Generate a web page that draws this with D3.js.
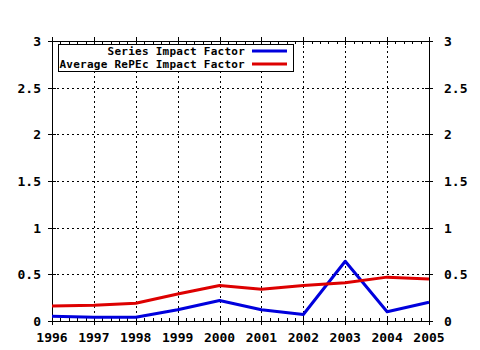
<!DOCTYPE html>
<html><head><meta charset="utf-8">
<script src="https://cdn.jsdelivr.net/npm/d3@7"></script>
<style>body{margin:0;background:#fff}</style>
</head><body>
<svg id="c" width="480" height="350"></svg>
<script>
const years = [1996,1997,1998,1999,2000,2001,2002,2003,2004,2005];
const seriesIF = [0.05,0.04,0.04,0.12,0.22,0.12,0.07,0.64,0.10,0.20];
const avgRePEc = [0.16,0.17,0.19,0.29,0.38,0.34,0.38,0.41,0.47,0.45];
const yTicks = [0,0.5,1,1.5,2,2.5,3];
const yTickLabels = ["0","0.5","1","1.5","2","2.5","3"];
const seriesNames = ["Series Impact Factor","Average RePEc Impact Factor"];
const seriesColors = ["#0000dd","#dd0000"];

const svg = d3.select("#c");
const L=52,R=429,T=41,B=321;
const x = d3.scaleLinear().domain([1996,2005]).range([L,R]);
const y = d3.scaleLinear().domain([0,3]).range([B,T]);
const font = "'DejaVu Sans Mono', monospace";

// grid
const g = svg.append("g");
g.selectAll(".vg").data(years.slice(1,-1)).enter().append("line")
  .attr("x1",d=>Math.round(x(d))+0.5).attr("x2",d=>Math.round(x(d))+0.5).attr("y1",T).attr("y2",B)
  .attr("stroke","#000").attr("stroke-dasharray","2,3");
g.selectAll(".hg").data(yTicks.slice(1,-1)).enter().append("line")
  .attr("y1",d=>Math.round(y(d))+0.5).attr("y2",d=>Math.round(y(d))+0.5).attr("x1",L).attr("x2",R)
  .attr("stroke","#000").attr("stroke-dasharray","2,3");

// minor x ticks
const minor = [];
years.slice(0,-1).forEach(yr=>{for(let i=1;i<5;i++) minor.push(yr+i/5);});
g.selectAll(".mb").data(minor).enter().append("line")
  .attr("x1",d=>Math.round(x(d))+0.5).attr("x2",d=>Math.round(x(d))+0.5).attr("y1",B-3).attr("y2",B)
  .attr("stroke","#000");
g.selectAll(".mt").data(minor).enter().append("line")
  .attr("x1",d=>Math.round(x(d))+0.5).attr("x2",d=>Math.round(x(d))+0.5).attr("y1",T).attr("y2",T+3)
  .attr("stroke","#000");
// major x ticks
g.selectAll(".Mb").data(years).enter().append("line")
  .attr("x1",d=>Math.round(x(d))+0.5).attr("x2",d=>Math.round(x(d))+0.5).attr("y1",B-4).attr("y2",B+4)
  .attr("stroke","#000");
g.selectAll(".Mt").data(years).enter().append("line")
  .attr("x1",d=>Math.round(x(d))+0.5).attr("x2",d=>Math.round(x(d))+0.5).attr("y1",T-4).attr("y2",T+4)
  .attr("stroke","#000");
// y ticks
[L,R].forEach(px=>{
  g.selectAll(null).data(yTicks).enter().append("line")
    .attr("x1",px-4).attr("x2",px+4).attr("y1",d=>Math.round(y(d))+0.5).attr("y2",d=>Math.round(y(d))+0.5)
    .attr("stroke","#000");
});
// frame
svg.append("rect").attr("x",L+0.5).attr("y",T+0.5).attr("width",R-L).attr("height",B-T)
  .attr("fill","none").attr("stroke","#000");

// labels
svg.selectAll(".xl").data(years).enter().append("text")
  .attr("x",d=>x(d)).attr("y",342).attr("text-anchor","middle")
  .attr("font-family",font).attr("font-weight","bold").attr("font-size",13).text(d=>d);
svg.selectAll(".yl").data(yTicks).enter().append("text")
  .attr("x",41).attr("y",d=>y(d)+5).attr("text-anchor","end")
  .attr("font-family",font).attr("font-weight","bold").attr("font-size",13).text((d,i)=>yTickLabels[i]);
svg.selectAll(".yr").data(yTicks).enter().append("text")
  .attr("x",444).attr("y",d=>y(d)+5).attr("text-anchor","start")
  .attr("font-family",font).attr("font-weight","bold").attr("font-size",13).text((d,i)=>yTickLabels[i]);

// lines
const line = d3.line().x((d,i)=>x(years[i])).y(d=>y(d));
[seriesIF,avgRePEc].forEach((s,k)=>{
  svg.append("path").datum(s).attr("d",line).attr("fill","none")
    .attr("stroke",seriesColors[k]).attr("stroke-width",3).attr("stroke-linejoin","round");
});

// legend
svg.append("rect").attr("x",58.5).attr("y",44.5).attr("width",235).attr("height",27)
  .attr("fill","#fff").attr("stroke","#000");
seriesNames.forEach((n,i)=>{
  const yy = 51 + i*13;
  svg.append("text").attr("x",245).attr("y",yy+4).attr("text-anchor","end")
    .attr("font-family",font).attr("font-weight","bold").attr("font-size",11)
    .attr("letter-spacing",0.25).text(n);
  svg.append("line").attr("x1",252).attr("x2",287).attr("y1",yy).attr("y2",yy)
    .attr("stroke",seriesColors[i]).attr("stroke-width",3);
});
</script>
</body></html>
